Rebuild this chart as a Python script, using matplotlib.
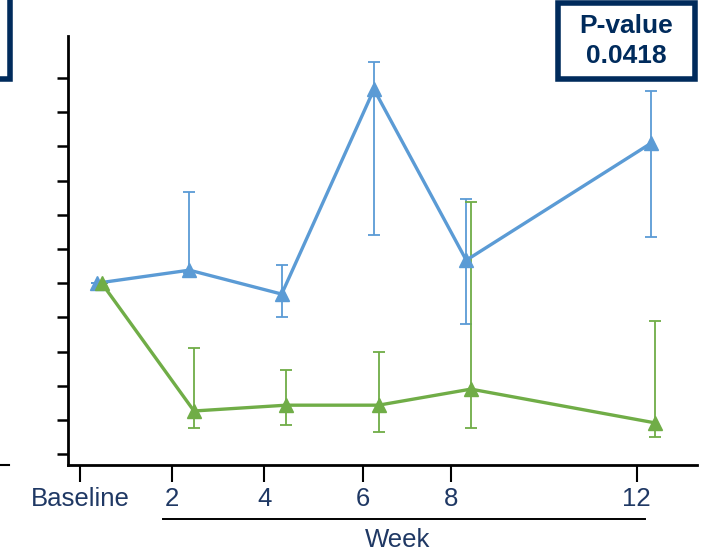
import matplotlib
matplotlib.use("Agg")
import matplotlib.pyplot as plt
from matplotlib.patches import Rectangle
from matplotlib.lines import Line2D

plt.rcParams['font.family'] = ['Liberation Sans', 'DejaVu Sans']

# weeks (green points are drawn slightly offset, as in the source)
weeks = [0, 2, 4, 6, 8, 12]
tick_pos = [-0.37, 1.63, 3.62, 5.77, 7.68, 11.69]
tick_labels = ['Baseline', '2', '4', '6', '8', '12']

# series 1 (blue): mean change and error bar ends
blue_mean = [0.0, 0.38, -0.32, 5.67, 0.67, 4.09]
blue_hi = [0.0, 2.66, 0.53, 6.46, 2.46, 5.61]
blue_lo = [0.0, 0.30, -0.99, 1.40, -1.20, 1.35]

# series 2 (green)
green_mean = [0.0, -3.74, -3.57, -3.57, -3.10, -4.09]
green_hi = [0.0, -1.90, -2.54, -2.02, 2.37, -1.11]
green_lo = [0.0, -4.24, -4.15, -4.36, -4.24, -4.50]

p_text = 'P-value\n0.0418'

blue = '#5B9BD5'
green = '#70AD47'
navy = '#002B5C'
label_col = '#1F3864'

W, H = 711, 554
fig = plt.figure(figsize=(W / 100, H / 100), dpi=100)
ax = fig.add_axes([68 / W, (H - 465) / H, (697 - 68) / W, (465 - 36) / H])

def draw(xs, mean, hi, lo, color):
    yerr = [[m - l for m, l in zip(mean, lo)], [h - m for h, m in zip(hi, mean)]]
    ax.errorbar(xs, mean, yerr=yerr, fmt='none', ecolor=color, elinewidth=1.3,
                capsize=4.5, capthick=1.3, zorder=2)
    ax.plot(xs, mean, color=color, lw=2.4, marker='^', markersize=10, zorder=3)

draw(weeks, blue_mean, blue_hi, blue_lo, blue)
draw([w + 0.1 for w in weeks], green_mean, green_hi, green_lo, green)

ax.set_xlim(-0.63, 13.0)
ax.set_ylim(-5.32, 7.23)
ax.set_yticks(range(-5, 7))
ax.set_yticklabels([])
ax.set_xticks(tick_pos)
ax.set_xticklabels(tick_labels, fontsize=18.5, color=label_col)
ax.tick_params(axis='y', direction='out', length=8, width=1.8, color='black')
ax.tick_params(axis='x', direction='out', length=12, width=1.5, color='black', pad=4)
for s in ['top', 'right']:
    ax.spines[s].set_visible(False)
ax.spines['left'].set_linewidth(2)
ax.spines['bottom'].set_linewidth(2)

# Week underline and label
fig.add_artist(Line2D([163 / W, 645 / W], [(H - 519) / H] * 2, color='black', lw=1.4))
fig.text(398 / W, (H - 540) / H, 'Week', ha='center', va='center', fontsize=18.5, color=label_col)

# stray tick at left edge
fig.add_artist(Line2D([0, 9 / W], [(H - 465) / H] * 2, color='black', lw=1.5))

# partial box at top left
fig.add_artist(Rectangle((-40 / W, (H - 79) / H), 50 / W, 100 / H, fill=False,
                         edgecolor=navy, lw=4, transform=fig.transFigure))

# P-value box
fig.add_artist(Rectangle((557.5 / W, (H - 78.5) / H), 137 / W, 76 / H, fill=False,
                         edgecolor=navy, lw=4, transform=fig.transFigure))
fig.text(626 / W, (H - 41) / H, p_text, ha='center', va='center', fontsize=19,
         fontweight='bold', color=navy, linespacing=1.3)

fig.savefig('out.png', dpi=100)
